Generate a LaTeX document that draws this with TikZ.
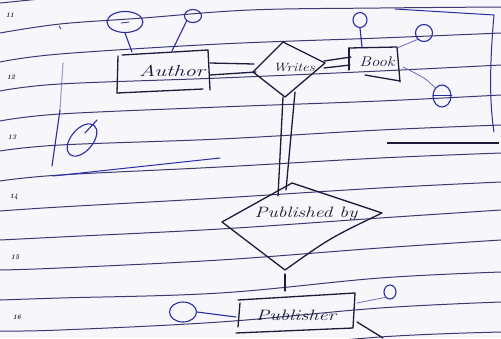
\documentclass[tikz,border=0pt]{standalone}
\usepackage{graphicx}
\usetikzlibrary{shapes.geometric}
\definecolor{paper}{HTML}{F6F6FB}
\definecolor{rulecol}{HTML}{3A3A72}
\definecolor{ink}{HTML}{1B1B3A}
\definecolor{blueink}{HTML}{2B2BA8}
\newcommand\hand[2]{\scalebox{#1}[1]{#2}}
\begin{document}
\begin{tikzpicture}[x=1pt,y=-1pt,
  ruled/.style={rulecol, line width=1pt},
  pen/.style={ink, line width=1.3pt, line join=round, line cap=round},
  bpen/.style={blueink, line width=1.1pt, line cap=round},
  lpen/.style={blueink!70, line width=0.8pt, line cap=round},
  attr/.style={ellipse, draw=blueink, line width=1.1pt, inner sep=0pt},
  word/.style={ink, inner sep=0pt, font=\itshape},
  num/.style={black!85, inner sep=0pt, font=\bfseries\itshape\fontsize{7}{7}\selectfont}]
\fill[paper] (0,0) rectangle (501,338);
\useasboundingbox (0,0) rectangle (501,338);

% ruled paper
\draw[ruled] (0,3) -- (70,-4);
\draw[ruled] plot[smooth, tension=0.6] coordinates {(0,33) (60,24) (143,18) (250,10) (380,8) (501,7)};
\draw[ruled] plot[smooth, tension=0.6] coordinates {(0,62) (60,54) (220,44) (380,38) (501,33)};
\draw[ruled] plot[smooth, tension=0.6] coordinates {(0,91) (60,84) (220,78) (380,71) (501,65)};
\draw[ruled] plot[smooth, tension=0.6] coordinates {(0,121) (60,114) (220,107) (380,101) (501,95)};
\draw[ruled] plot[smooth, tension=0.6] coordinates {(0,151) (60,145) (220,139) (380,130) (501,125)};
\draw[ruled] plot[smooth, tension=0.6] coordinates {(0,181) (60,175) (220,167) (380,158) (501,153)};
\draw[ruled] plot[smooth, tension=0.6] coordinates {(0,211) (60,207) (220,198) (380,188) (501,182)};
\draw[ruled] plot[smooth, tension=0.6] coordinates {(0,240) (60,237) (220,229) (380,218) (501,210)};
\draw[ruled] plot[smooth, tension=0.6] coordinates {(0,270) (60,268) (220,260) (380,248) (501,240)};
\draw[ruled] plot[smooth, tension=0.6] coordinates {(0,300) (60,298) (220,293) (380,278) (501,272)};
\draw[ruled] plot[smooth, tension=0.6] coordinates {(0,331) (60,330) (220,322) (380,308) (501,302)};
\draw[ruled] plot[smooth, tension=0.6] coordinates {(220,352) (380,337) (501,332)};

% line numbers
\node[num] (n11) at (10,15) {11};
\node[num] (n12) at (11,77) {12};
\node[num] (n13) at (12,137) {13};
\node[num] (n14) at (14,197) {14};
\node[num] (n15) at (15,257) {15};
\node[num] (n16) at (17,317) {16};

% margin strokes
\draw[bpen, line width=0.8pt] (59,26) -- (61,29);
\draw[bpen, opacity=0.45] (63,63) -- (60,110);
\draw[bpen] (60,110) -- (52,166);
\draw[bpen, line width=1pt] (53,176) -- (220,158);
\node[attr, rotate=50, minimum width=38pt, minimum height=22pt] (lone) at (82,140) {};
\draw[bpen] (85,133) -- (97,120);

% Author
\draw[pen] (122,55) -- (208,50);
\draw[pen] (118,56) -- (117,93);
\draw[pen] (117,93) -- (203,89);
\draw[pen] (208,50) -- (210,90);
\node[word] (author) at (172,71) {\fontsize{16}{16}\selectfont\hand{1.4}{Author}};
\coordinate (au1) at (132,52);
\coordinate (au2) at (172,51);
\coordinate (auR1) at (210,63);
\coordinate (auR2) at (210,75);
\node[attr, minimum width=36pt, minimum height=21pt] (aA1) at (125,22) {};
\draw[bpen, line width=0.8pt] (121,23) -- (129,22);
\node[attr, minimum width=17pt, minimum height=13pt] (aA2) at (193,16) {};
\draw[bpen] (aA1.south) -- (au1);
\draw[bpen] (aA2.south west) -- (au2);

% Writes
\draw[pen] (253,72) -- (283,42) -- (325,63) -- (285,97) -- cycle;
\node[word] (writes) at (294,68) {\fontsize{12}{12}\selectfont\hand{1.25}{Writes}};
\coordinate (wrL1) at (254,64);
\coordinate (wrL2) at (256,72);
\coordinate (wrR1) at (324,61);
\coordinate (wrR2) at (324,68);
\coordinate (wrB1) at (283,97);
\coordinate (wrB2) at (295,92);
\draw[pen] (auR1) -- (wrL1);
\draw[pen] (auR2) -- (wrL2);

% Book
\draw[pen] (349,48) -- (397,47) -- (400,82);
\draw[pen] (349,48) -- (349,70);
\draw[pen] (365,75) -- (400,81);
\node[word] (book) at (377,62) {\fontsize{14}{14}\selectfont\hand{1.2}{Book}};
\coordinate (bkL1) at (351,57);
\coordinate (bkL2) at (350,65);
\coordinate (bk1) at (362,47);
\coordinate (bk2) at (397,48);
\coordinate (bk3) at (403,67);
\draw[pen] (wrR1) -- (bkL1);
\draw[pen] (wrR2) -- (bkL2);
\node[attr, minimum width=14pt, minimum height=15pt] (aB1) at (360,20) {};
\node[attr, minimum width=17pt, minimum height=17pt] (aB2) at (424,33) {};
\node[attr, minimum width=18pt, minimum height=22pt] (aB3) at (442,96) {};
\draw[bpen, line width=0.9pt] (433,95) -- (452,95);
\draw[bpen] (aB1.south) -- (bk1);
\draw[lpen] (aB2.south west) -- (bk2);
\draw[lpen] (aB3.north west) .. controls (425,78) .. (bk3);

% bracket on the right
\draw[bpen, line width=1pt] (395,9) -- (494,15) .. controls (490,60) and (489,100) .. (494,132);
\draw[ink, line width=1.8pt] (387,143) -- (499,143);

% Published by
\draw[pen] (222,222) -- (292,183) -- (382,213) .. controls (330,238) .. (285,270) -- cycle;
\node[word] (pubby) at (306,214) {\fontsize{15}{15}\selectfont\hand{1.3}{Published by}};
\coordinate (pbT1) at (278,196);
\coordinate (pbT2) at (286,190);
\coordinate (pbB) at (285,274);
\draw[pen] (wrB1) -- (pbT1);
\draw[pen] (wrB2) -- (pbT2);

% Publisher
\draw[pen] (238,300) -- (355,293) -- (353,328) -- (236,333);
\draw[pen] (240,303) -- (238,327);
\node[word] (publisher) at (296,315) {\fontsize{15}{15}\selectfont\hand{1.35}{Publisher}};
\coordinate (pbT) at (285,291);
\coordinate (pu1) at (236,317);
\coordinate (pu2) at (357,303);
\coordinate (pu3) at (357,322);
\coordinate (pu4) at (383,338);
\draw[pen] (pbB) -- (pbT);
\node[attr, minimum width=27pt, minimum height=20pt] (aP1) at (183,312) {};
\node[attr, minimum width=12pt, minimum height=14pt] (aP2) at (390,292) {};
\draw[bpen] (aP1.east) -- (pu1);
\draw[lpen] (aP2.south west) -- (pu2);
\draw[pen] (pu3) -- (pu4);
\end{tikzpicture}
\end{document}
